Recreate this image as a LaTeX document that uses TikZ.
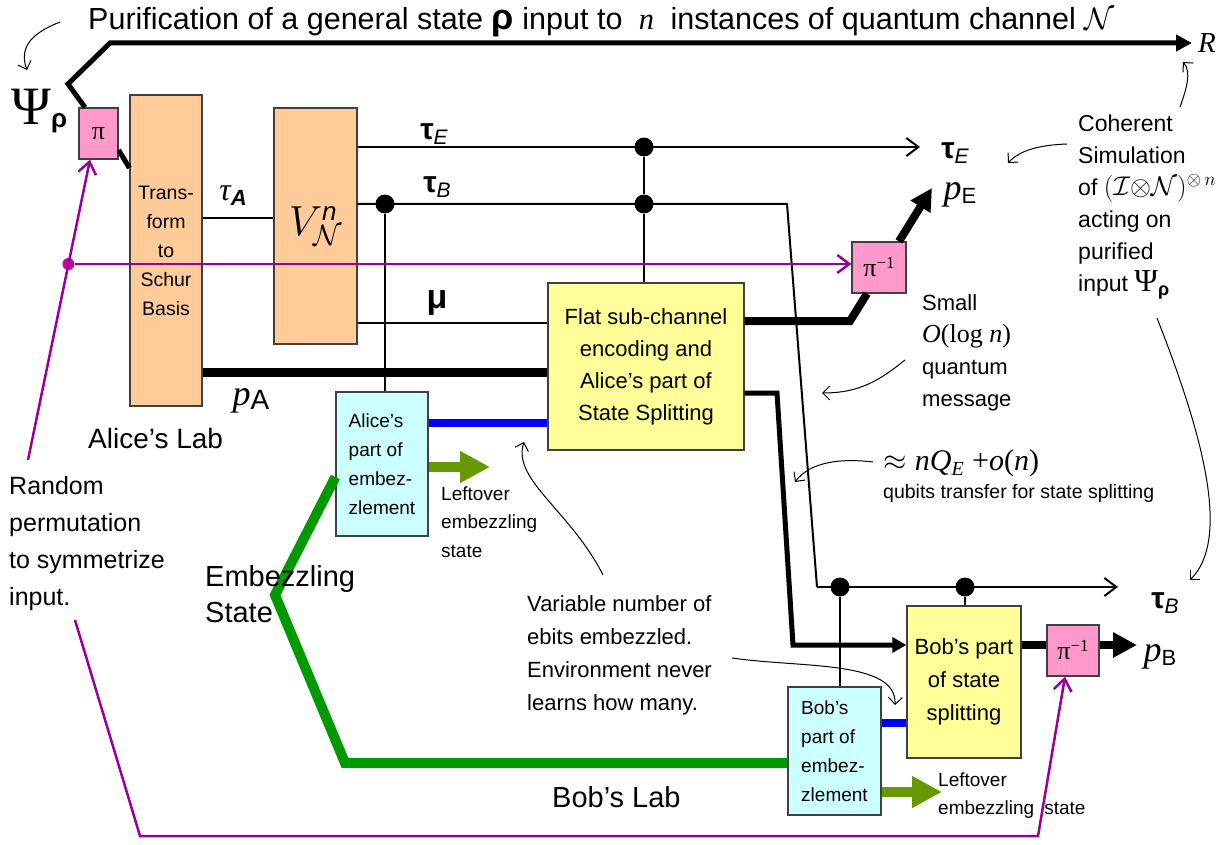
\documentclass[tikz,border=0pt]{standalone}
\usepackage{fix-cm}
\usepackage{fontspec}
\setmainfont{Liberation Sans}
\newfontfamily\serif{Liberation Serif}
\usetikzlibrary{arrows.meta}
\definecolor{peach}{HTML}{FFCC99}
\definecolor{pinkbox}{HTML}{FF99CC}
\definecolor{yelbox}{HTML}{FFFF99}
\definecolor{cyanbox}{HTML}{CCFFFF}
\definecolor{purp}{HTML}{990099}
\definecolor{purpdot}{HTML}{CC0099}
\definecolor{grn}{HTML}{009900}
\definecolor{olv}{HTML}{669900}
\definecolor{blu}{HTML}{0000FF}
\newcommand\fs[2]{\fontsize{#1}{#2}\selectfont}
\newcommand\taul[1]{{\fs{30}{30}\bfseries τ}\raisebox{-5pt}{\fs{21}{21}\itshape #1}}
\newcommand\pll[2]{{\serif\itshape\fs{36}{36}p}\raisebox{-4pt}{\fs{#2}{#2}#1}}
\begin{document}
\begin{tikzpicture}[x=1pt,y=-1pt,
  every node/.style={inner sep=0pt},
  box/.style={draw=black!75, line width=1.3pt, align=center},
  wire/.style={line width=2pt},
  fatwire/.style={line width=5pt},
  dot/.style={circle, fill=black, minimum size=19pt},
  barb/.style={-{Straight Barb[length=12pt,width=18pt,line width=2pt]}},
  parrow/.style={-{Straight Barb[length=12pt,width=18pt,line width=2.5pt]}},
  purpw/.style={draw=purp, line width=2.5pt},
  note/.style={line width=1pt, -{Straight Barb[length=7pt,width=14pt,line width=1pt]}},
  lefto/.style={draw=olv, line width=10pt, -{Triangle[length=30pt,width=30pt]}},
  txt/.style={align=left, anchor=west}
]
\useasboundingbox (0,0) rectangle (1220,845);

% ---------- boxes ----------
\node[box, fill=pinkbox, minimum width=39pt, minimum height=51pt] (pi1) at (98.5,133.5) {\serif\fs{26}{26}π};
\node[box, fill=peach, minimum width=72pt, minimum height=311pt, font={\fs{19.5}{29}}] (trans) at (166,250.5) {Trans-\\form\\to\\Schur\\Basis};
\node[box, fill=peach, minimum width=83pt, minimum height=236pt] (V) at (315.5,226)
  {\fs{42}{42}$V^{\mbox{\fs{26}{26}\itshape n}}_{\mathcal{N}}$};
\node[box, fill=yelbox, minimum width=196pt, minimum height=167pt, font={\fs{22}{32}}] (flat) at (646,366.5)
  {Flat sub-channel\\encoding and\\Alice’s part of\\State Splitting};
\node[box, fill=cyanbox, minimum width=92pt, minimum height=144pt, align=left, font={\fs{19}{29}}] (aemb) at (382,464)
  {Alice’s\\part of\\embez-\\zlement};
\node[box, fill=cyanbox, minimum width=93pt, minimum height=128pt, align=left, font={\fs{19}{29}}] (bemb) at (834.5,751)
  {Bob’s\\part of\\embez-\\zlement};
\node[box, fill=yelbox, minimum width=114pt, minimum height=152pt, font={\fs{22}{33}}] (bss) at (964,682)
  {Bob’s part\\of state\\splitting};
\node[box, fill=pinkbox, minimum width=54pt, minimum height=51pt] (pinvE) at (879,267.5)
  {\serif\fs{26}{26}π\raisebox{8pt}{\fs{17}{17}−1}};
\node[box, fill=pinkbox, minimum width=52pt, minimum height=51pt] (pinvB) at (1073,650.5)
  {\serif\fs{26}{26}π\raisebox{8pt}{\fs{17}{17}−1}};

% ---------- coordinates ----------
\coordinate (psiK) at (68,84);
\coordinate (psiT) at (110,43);
\coordinate (Rend) at (1192,43);
\coordinate (tA) at (240,218);
\coordinate (tEout) at (920,147);
\coordinate (tBy) at (500,204);
\coordinate (tBk) at (787,204);
\coordinate (tBl) at (817,587);
\coordinate (tBout) at (1118,587);
\coordinate (muy) at (500,323);
\coordinate (pAy) at (500,372);
\coordinate (bluA) at (500,423);
\coordinate (bluB) at (890,723);
\coordinate (pEk) at (850,321);
\coordinate (pEout) at (932,188);
\coordinate (fbA) at (777,393);
\coordinate (fbB) at (793,645);
\coordinate (pBout) at (1137,645);
\coordinate (gA) at (300,477);
\coordinate (gB) at (275,595);
\coordinate (gC) at (345,763);
\coordinate (loA) at (490,467);
\coordinate (loB) at (942,792);
\coordinate (pA0) at (28,460);
\coordinate (pB0) at (75,620);
\coordinate (pB1) at (140,836);
\coordinate (pB2) at (1038,836);

% ---------- dots ----------
\node[dot] (dA) at (385,204) {};
\node[dot] (d1) at (644,147) {};
\node[dot] (d2) at (644,204) {};
\node[dot] (d3) at (840,587) {};
\node[dot] (d4) at (965,587) {};

% ---------- purification line ----------
\draw[fatwire, line join=miter, -{Triangle[length=16pt,width=16pt]}] ([xshift=-13.5pt]pi1.north) -- (psiK) -- (psiT) -- (Rend);
\draw[fatwire] ([yshift=-16.5pt]pi1.east) -- ([yshift=82.5pt]trans.west);

% ---------- wires ----------
\draw[wire] (trans.east |- tA) -- (V.west |- tA);
\draw[wire, barb] (V.east |- tEout) -- (tEout);
\draw[wire] (V.east |- tBy) -- (tBk) -- (tBl);
\draw[wire, barb] (tBl) -- (tBout);
\draw[wire] (V.east |- muy) -- (flat.west |- muy);
\draw[line width=9pt] (trans.east |- pAy) -- (flat.west |- pAy);
\draw[wire] (dA) -- (aemb.north -| dA);
\draw[wire] (d1) -- (d2) -- (flat.north -| d2);
\draw[wire] (d3) -- (bemb.north -| d3);
\draw[wire] (d4) -- (bss.north -| d4);
\draw[draw=blu, line width=8pt] (aemb.east |- bluA) -- (flat.west |- bluA);
\draw[draw=blu, line width=8pt] (bemb.east |- bluB) -- (bss.west |- bluB);
\draw[line width=8pt, line join=miter] (flat.east |- pEk) -- (pEk) -- ([xshift=-12pt]pinvE.south);
\draw[line width=8pt, -{Triangle[length=22pt,width=22pt]}] ([xshift=20pt]pinvE.north) -- (pEout);
\draw[fatwire, line join=miter, -{Triangle[length=14pt,width=15pt]}] (flat.east |- fbA) -- (fbA) -- (fbB) -- (bss.west |- fbB);
\draw[line width=8pt] (bss.east |- pBout) -- (pinvB.west |- pBout);
\draw[line width=8pt, -{Triangle[length=24pt,width=24pt]}] (pinvB.east |- pBout) -- (pBout);
\draw[draw=grn, line width=10pt, line join=miter] (aemb.west |- gA) -- (gB) -- (gC) -- (bemb.west |- gC);
\draw[lefto] (aemb.east |- loA) -- (loA);
\draw[lefto] (bemb.east |- loB) -- (loB);

% ---------- purple permutation lines ----------
\node[circle, fill=purpdot, minimum size=12pt] (pdot) at (68.4,264) {};
\draw[purpw, parrow] (pA0) -- ([xshift=-8.5pt]pi1.south);
\draw[purpw, parrow] (pdot) -- (pinvE.west |- pdot);
\draw[purpw, parrow] (pB0) -- (pB1) -- (pB2) -- ([xshift=-8pt]pinvB.south);

% ---------- labels ----------
\node[anchor=base west, font={\fs{30.5}{30.5}}] (title) at (88,30)
  {Purification of a general state {\fs{36}{36}\bfseries ρ} input to \hspace{8pt}{\serif\itshape n}\hspace{8pt} instances of quantum channel {\fs{31}{31}$\mathcal{N}$}};
\node[anchor=base west] (psi) at (11,125) {{\serif\fs{54}{54}Ψ}\raisebox{-3pt}{\fs{26}{26}\bfseries ρ}};
\node (R) at (1207,43) {\serif\itshape\fs{29}{29}R};
\node (lA) at (233,196) {{\serif\itshape\fs{32}{32}τ}\raisebox{-5pt}{\fs{22}{22}\bfseries\itshape A}};
\node (lE1) at (434,134) {\taul{E}};
\node (lB1) at (437,187) {\taul{B}};
\node (lmu) at (437,303) {\fs{34}{34}\bfseries μ};
\node (lE2) at (955,153) {\taul{E}};
\node (lB2) at (1165,603) {\taul{B}};
\node (lpA) at (251,401) {\pll{A}{28}};
\node (lpE) at (960,195) {\pll{E}{22}};
\node (lpB) at (1160,657) {\pll{B}{22}};

\node[anchor=base west, font={\fs{28}{28}}] (alab) at (88,448) {Alice’s Lab};
\node[anchor=base west, font={\fs{29}{29}}] (blab) at (552,807) {Bob’s Lab};
\node[txt, font={\fs{29}{36}}] (emb) at (205,594) {Embezzling\\State};
\node[txt, font={\fs{25}{37}}] (rand) at (9,544) {Random\\permutation\\to symmetrize\\input.};
\node[txt, font={\fs{22}{33}}] (var) at (527,655) {Variable number of\\ebits embezzled.\\Environment never\\learns how many.};
\node[txt, font={\fs{19}{28.5}}] (loAt) at (441,522) {Leftover\\embezzling\\state};
\node[txt, font={\fs{19}{28}}] (loBt) at (938,796) {Leftover\\embezzling\hspace{10pt}state};
\node[txt, font={\fs{22}{32}}] (small) at (922,353) {Small\\{\serif\fs{26}{26}\itshape O\upshape(log \itshape n\upshape)}\\quantum\\message};
\node[txt, font={\fs{23}{32}}] (coh) at (1078,207)
  {Coherent\\Simulation\\of {\fs{27}{27}$(\mathcal{I}{\otimes}\mathcal{N})^{\otimes\, n}$}\\acting on\\purified\\input {\serif\fs{32}{32}Ψ}\raisebox{-4pt}{\fs{18}{18}\bfseries ρ}};
\node[anchor=west] (approx) at (883,463) {\fs{30}{30}$\approx$ {\serif\itshape nQ}\raisebox{-5pt}{\serif\itshape\fs{20}{20}E} {\serif +\itshape o\upshape(\itshape n\upshape)}};
\node[anchor=west, font={\fs{19.5}{19.5}}] (qub) at (883,493) {qubits transfer for state splitting};

% ---------- annotation arrows ----------
\coordinate (n1a) at (60,22);   \coordinate (n1b) at (27,70);
\coordinate (n2a) at (1067,144); \coordinate (n2b) at (1008,163);
\coordinate (n3a) at (1180,107); \coordinate (n3b) at (1183,62);
\coordinate (n4a) at (1157,318); \coordinate (n4b) at (1190,580);
\coordinate (n5a) at (905,360); \coordinate (n5b) at (822,393);
\coordinate (n6a) at (873,462); \coordinate (n6b) at (795,482);
\coordinate (n7a) at (732,658); \coordinate (n7b) at (895,705);
\coordinate (n8a) at (603,575); \coordinate (n8b) at (524,442);
\draw[note] (n1a) .. controls (35,32) and (18,45) .. (n1b);
\draw[note] (n2a) .. controls (1040,145) and (1020,150) .. (n2b);
\draw[note] (n3a) .. controls (1186,90) and (1192,72) .. (n3b);
\draw[note] (n4a) .. controls (1205,440) and (1230,540) .. (n4b);
\draw[note] (n5a) .. controls (880,380) and (860,393) .. (n5b);
\draw[note] (n6a) .. controls (840,458) and (810,462) .. (n6b);
\draw[note] (n7a) .. controls (800,668) and (897,660) .. (n7b);
\draw[note] (n8a) .. controls (570,510) and (512,480) .. (n8b);
\end{tikzpicture}
\end{document}
